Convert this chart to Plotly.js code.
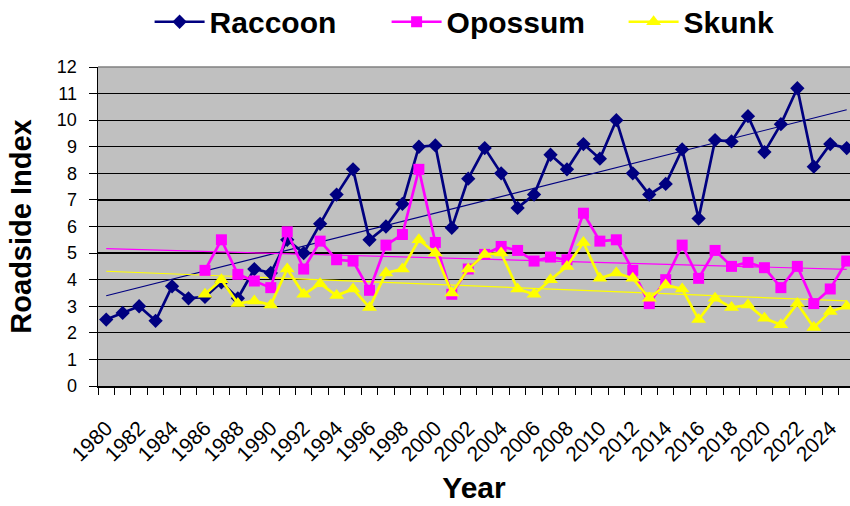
<!DOCTYPE html>
<html>
<head>
<meta charset="utf-8">
<script src="https://cdn.plot.ly/plotly-3.0.1.min.js"></script>
<style>
  html, body { margin: 0; padding: 0; background: #ffffff; }
  #chart { width: 850px; height: 506px; }
</style>
</head>
<body>
<div id="chart"></div>
<script>
// Years 1980..2025
const years = [1980,1981,1982,1983,1984,1985,1986,1987,1988,1989,
               1990,1991,1992,1993,1994,1995,1996,1997,1998,1999,
               2000,2001,2002,2003,2004,2005,2006,2007,2008,2009,
               2010,2011,2012,2013,2014,2015,2016,2017,2018,2019,
               2020,2021,2022,2023,2024,2025];

const raccoon = [2.5, 2.75, 3.0, 2.45, 3.75, 3.3, 3.35, 3.9, 3.3, 4.4,
                 4.25, 5.5, 5.0, 6.1, 7.2, 8.15, 5.5, 6.0, 6.85, 9.0,
                 9.05, 5.95, 7.8, 8.95, 8.0, 6.7, 7.2, 8.7, 8.15, 9.1,
                 8.55, 10.0, 8.0, 7.2, 7.6, 8.9, 6.3, 9.25, 9.2, 10.15,
                 8.8, 9.85, 11.2, 8.25, 9.1, 8.95];

const opossum = [null, null, null, null, null, null, 4.35, 5.5, 4.2, 3.95,
                 3.7, 5.8, 4.4, 5.45, 4.75, 4.7, 3.6, 5.3, 5.7, 8.15,
                 5.4, 3.45, 4.4, 4.95, 5.25, 5.1, 4.7, 4.85, 4.75, 6.5,
                 5.45, 5.5, 4.35, 3.1, 4.0, 5.3, 4.05, 5.1, 4.5, 4.65,
                 4.45, 3.7, 4.5, 3.1, 3.65, 4.7];

const skunk = [null, null, null, null, null, null, 3.45, 4.0, 3.1, 3.2,
               3.05, 4.4, 3.45, 3.85, 3.4, 3.65, 2.95, 4.25, 4.4, 5.5,
               5.0, 3.5, 4.4, 4.95, 5.0, 3.65, 3.45, 4.0, 4.5, 5.4,
               4.05, 4.25, 4.05, 3.3, 3.8, 3.65, 2.5, 3.3, 2.95, 3.05,
               2.55, 2.3, 3.1, 2.2, 2.8, 3.0];

const yTicks = [0,1,2,3,4,5,6,7,8,9,10,11,12];
const xTickYears = [1980,1982,1984,1986,1988,1990,1992,1994,1996,1998,2000,2002,
                    2004,2006,2008,2010,2012,2014,2016,2018,2020,2022,2024];

// Linear least-squares trendline (like Excel's linear trendline)
function trend(xs, ys) {
  let n = 0, sx = 0, sy = 0, sxx = 0, sxy = 0;
  for (let i = 0; i < xs.length; i++) {
    if (ys[i] === null) continue;
    n++; sx += xs[i]; sy += ys[i]; sxx += xs[i]*xs[i]; sxy += xs[i]*ys[i];
  }
  const b = (n*sxy - sx*sy) / (n*sxx - sx*sx);
  const a = (sy - b*sx) / n;
  const x0 = xs[0], x1 = xs[xs.length-1];
  return {x: [x0, x1], y: [a + b*x0, a + b*x1]};
}

const cR = '#000080', cO = '#FF00FF', cS = '#FFFF00';
const tR = trend(years, raccoon), tO = trend(years, opossum), tS = trend(years, skunk);

const data = [
  {x: tR.x, y: tR.y, mode: 'lines', line: {color: cR, width: 1.2}, showlegend: false, hoverinfo: 'skip'},
  {x: tO.x, y: tO.y, mode: 'lines', line: {color: cO, width: 1.2}, showlegend: false, hoverinfo: 'skip'},
  {x: tS.x, y: tS.y, mode: 'lines', line: {color: cS, width: 1.2}, showlegend: false, hoverinfo: 'skip'},
  {x: years, y: raccoon, name: 'Raccoon', mode: 'lines+markers',
   line: {color: cR, width: 2.7}, marker: {symbol: 'diamond', size: 11, color: cR}},
  {x: years, y: opossum, name: 'Opossum', mode: 'lines+markers',
   line: {color: cO, width: 2.7}, marker: {symbol: 'square', size: 11, color: cO}},
  {x: years, y: skunk, name: 'Skunk', mode: 'lines+markers',
   line: {color: cS, width: 2.7}, marker: {symbol: 'triangle-up', size: 13, color: cS}}
];

const layout = {
  width: 850, height: 506,
  margin: {l: 98, r: 0, t: 67, b: 120},
  paper_bgcolor: '#ffffff',
  plot_bgcolor: '#C0C0C0',
  font: {family: 'Liberation Sans, Arial, sans-serif', color: '#000000'},
  showlegend: true,
  legend: {
    orientation: 'h', xref: 'container', yref: 'container',
    x: 0.176, xanchor: 'left', y: 0.957, yanchor: 'middle',
    font: {size: 30, family: 'Liberation Sans, Arial, sans-serif', weight: 'bold'},
    bgcolor: 'rgba(0,0,0,0)', itemwidth: 50, traceorder: 'normal',
    entrywidth: 172, entrywidthmode: 'pixels'
  },
  xaxis: {
    range: [1979.5, 2025.2],
    tickmode: 'array', tickvals: xTickYears, ticktext: xTickYears.map(String),
    tickangle: -45, ticks: '', tickfont: {size: 21}, ticklabelstandoff: 20,
    showgrid: false, zeroline: false,
    showline: true, linecolor: '#000000', linewidth: 1.5,
    minor: {tick0: 1979.5, dtick: 1, ticks: 'outside', ticklen: 7, tickcolor: '#000000', tickwidth: 1, showgrid: false},
    title: {text: 'Year', font: {size: 30, weight: 'bold'}, standoff: 12},
    automargin: false
  },
  yaxis: {
    range: [0, 12], tickmode: 'array', tickvals: yTicks,
    ticks: 'outside', ticklen: 8, tickcolor: '#000000', tickwidth: 1,
    tickfont: {size: 18}, ticklabelstandoff: 8,
    showgrid: true, gridcolor: '#000000', gridwidth: 1.3,
    zeroline: false,
    showline: true, linecolor: '#000000', linewidth: 1.5,
    title: {text: 'Roadside Index', font: {size: 29, weight: 'bold'}, standoff: 16},
    automargin: false
  },
  shapes: [
    {type: 'line', xref: 'paper', yref: 'paper', x0: 0, x1: 1, y0: 1, y1: 1,
     line: {color: '#808080', width: 1.5}}
  ]
};

Plotly.newPlot('chart', data, layout, {displayModeBar: false, staticPlot: true});
</script>
</body>
</html>
